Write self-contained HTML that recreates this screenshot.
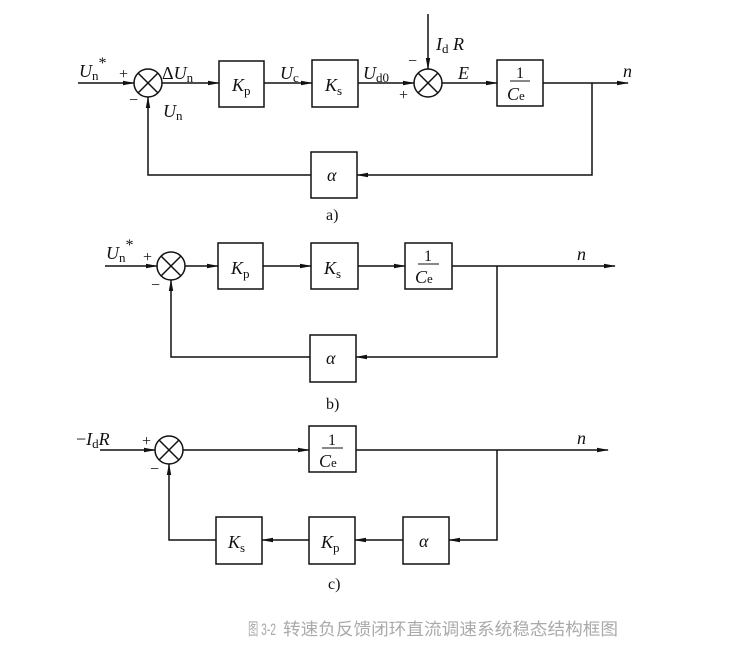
<!DOCTYPE html>
<html><head><meta charset="utf-8"><style>
html,body{margin:0;padding:0;background:#fff}
svg{display:block}
text{font-family:"Liberation Serif",serif;fill:#111}
.i{font-style:italic}
</style></head><body>
<svg width="735" height="645" viewBox="0 0 735 645" xmlns="http://www.w3.org/2000/svg">
<defs>
<marker id="ar" markerWidth="12" markerHeight="6" refX="11" refY="3" orient="auto" markerUnits="userSpaceOnUse">
<path d="M0,0.8 L12,3 L0,5.2 Z" fill="#111"/></marker>
</defs>
<g stroke="#111" stroke-width="1.5" fill="none">
<!-- a -->
<line x1="78" y1="83" x2="134" y2="83" marker-end="url(#ar)"/>
<circle cx="148" cy="83" r="14"/>
<line x1="138" y1="73" x2="158" y2="93"/><line x1="158" y1="73" x2="138" y2="93"/>
<line x1="162" y1="83" x2="219" y2="83" marker-end="url(#ar)"/>
<rect x="219" y="61" width="45" height="46"/>
<line x1="264" y1="83" x2="312" y2="83" marker-end="url(#ar)"/>
<rect x="312" y="60" width="46" height="47"/>
<line x1="358" y1="83" x2="414" y2="83" marker-end="url(#ar)"/>
<circle cx="428" cy="83" r="14"/>
<line x1="418" y1="73" x2="438" y2="93"/><line x1="438" y1="73" x2="418" y2="93"/>
<line x1="428" y1="14" x2="428" y2="69" marker-end="url(#ar)"/>
<line x1="442" y1="83" x2="497" y2="83" marker-end="url(#ar)"/>
<rect x="497" y="60" width="46" height="46"/>
<line x1="543" y1="83" x2="628" y2="83" marker-end="url(#ar)"/>
<polyline points="592,83 592,175 357,175" marker-end="url(#ar)"/>
<rect x="311" y="152" width="46" height="46"/>
<polyline points="311,175 148,175 148,97" marker-end="url(#ar)"/>
<!-- b -->
<line x1="105" y1="266" x2="157" y2="266" marker-end="url(#ar)"/>
<circle cx="171" cy="266" r="14"/>
<line x1="161" y1="256" x2="181" y2="276"/><line x1="181" y1="256" x2="161" y2="276"/>
<line x1="185" y1="266" x2="218" y2="266" marker-end="url(#ar)"/>
<rect x="218" y="243" width="45" height="46"/>
<line x1="263" y1="266" x2="311" y2="266" marker-end="url(#ar)"/>
<rect x="311" y="243" width="47" height="46"/>
<line x1="358" y1="266" x2="405" y2="266" marker-end="url(#ar)"/>
<rect x="405" y="243" width="47" height="46"/>
<line x1="452" y1="266" x2="615" y2="266" marker-end="url(#ar)"/>
<polyline points="497,266 497,357 356,357" marker-end="url(#ar)"/>
<rect x="310" y="335" width="46" height="47"/>
<polyline points="310,357 171,357 171,280" marker-end="url(#ar)"/>
<!-- c -->
<line x1="100" y1="450" x2="155" y2="450" marker-end="url(#ar)"/>
<circle cx="169" cy="450" r="14"/>
<line x1="159" y1="440" x2="179" y2="460"/><line x1="179" y1="440" x2="159" y2="460"/>
<line x1="183" y1="450" x2="309" y2="450" marker-end="url(#ar)"/>
<rect x="309" y="426" width="47" height="46"/>
<line x1="356" y1="450" x2="608" y2="450" marker-end="url(#ar)"/>
<polyline points="497,450 497,540 449,540" marker-end="url(#ar)"/>
<rect x="403" y="517" width="46" height="47"/>
<line x1="403" y1="540" x2="355" y2="540" marker-end="url(#ar)"/>
<rect x="309" y="517" width="46" height="47"/>
<line x1="309" y1="540" x2="262" y2="540" marker-end="url(#ar)"/>
<rect x="216" y="517" width="46" height="47"/>
<polyline points="216,540 169,540 169,464" marker-end="url(#ar)"/>
<!-- fraction bars -->
<line x1="510" y1="81" x2="530" y2="81" stroke-width="1"/>
<line x1="418" y1="264" x2="439" y2="264" stroke-width="1"/>
<line x1="322" y1="448" x2="343" y2="448" stroke-width="1"/>
</g>
<g font-size="18">
<!-- a labels -->
<text x="79" y="77" class="i">U<tspan font-size="13" font-style="normal" dy="3">n</tspan><tspan font-size="16" font-style="normal" dy="-12">*</tspan></text>
<text x="119" y="79" font-size="16">+</text>
<text x="129" y="105" font-size="16">−</text>
<text x="162" y="79">Δ<tspan class="i">U</tspan><tspan font-size="13" dy="3">n</tspan></text>
<text x="163" y="117" class="i">U<tspan font-size="13" font-style="normal" dy="3">n</tspan></text>
<text x="232" y="91" class="i">K<tspan font-size="13" font-style="normal" dy="4">p</tspan></text>
<text x="280" y="79" class="i">U<tspan font-size="13" font-style="normal" dy="3">c</tspan></text>
<text x="325" y="91" class="i">K<tspan font-size="13" font-style="normal" dy="4">s</tspan></text>
<text x="363" y="79" class="i">U<tspan font-size="13" font-style="normal" dy="3">d0</tspan></text>
<text x="408" y="66" font-size="16">−</text>
<text x="399" y="100" font-size="16">+</text>
<text x="436" y="50" class="i">I<tspan font-size="13" font-style="normal" dy="3">d</tspan><tspan dy="-3"> R</tspan></text>
<text x="458" y="79" class="i">E</text>
<text x="516" y="78" font-size="16">1</text>
<text x="507" y="100" class="i">C<tspan font-size="13" font-style="normal">e</tspan></text>
<text x="623" y="77" class="i">n</text>
<text x="327" y="181" class="i">α</text>
<text x="326" y="220" font-size="16">a)</text>
<!-- b labels -->
<text x="106" y="259" class="i">U<tspan font-size="13" font-style="normal" dy="3">n</tspan><tspan font-size="16" font-style="normal" dy="-12">*</tspan></text>
<text x="143" y="262" font-size="16">+</text>
<text x="151" y="290" font-size="16">−</text>
<text x="231" y="274" class="i">K<tspan font-size="13" font-style="normal" dy="4">p</tspan></text>
<text x="324" y="274" class="i">K<tspan font-size="13" font-style="normal" dy="4">s</tspan></text>
<text x="424" y="261" font-size="16">1</text>
<text x="415" y="283" class="i">C<tspan font-size="13" font-style="normal">e</tspan></text>
<text x="577" y="260" class="i">n</text>
<text x="326" y="364" class="i">α</text>
<text x="326" y="409" font-size="16">b)</text>
<!-- c labels -->
<text x="76" y="445">−<tspan class="i">I</tspan><tspan font-size="13" dy="3">d</tspan><tspan class="i" dy="-3">R</tspan></text>
<text x="142" y="446" font-size="16">+</text>
<text x="150" y="474" font-size="16">−</text>
<text x="328" y="445" font-size="16">1</text>
<text x="319" y="467" class="i">C<tspan font-size="13" font-style="normal">e</tspan></text>
<text x="577" y="444" class="i">n</text>
<text x="228" y="548" class="i">K<tspan font-size="13" font-style="normal" dy="4">s</tspan></text>
<text x="321" y="548" class="i">K<tspan font-size="13" font-style="normal" dy="4">p</tspan></text>
<text x="419" y="547" class="i">α</text>
<text x="328" y="589" font-size="16">c)</text>
</g>
<text x="248" y="635" font-size="17" textLength="28" lengthAdjust="spacingAndGlyphs" style="fill:#aaa;font-family:'Liberation Sans','Noto Sans CJK SC',sans-serif">图 3-2</text>
<text x="283" y="635" font-size="17" textLength="335" lengthAdjust="spacingAndGlyphs" style="fill:#aaa;font-family:'Noto Sans CJK SC',sans-serif">转速负反馈闭环直流调速系统稳态结构框图</text>
</svg>
</body></html>
